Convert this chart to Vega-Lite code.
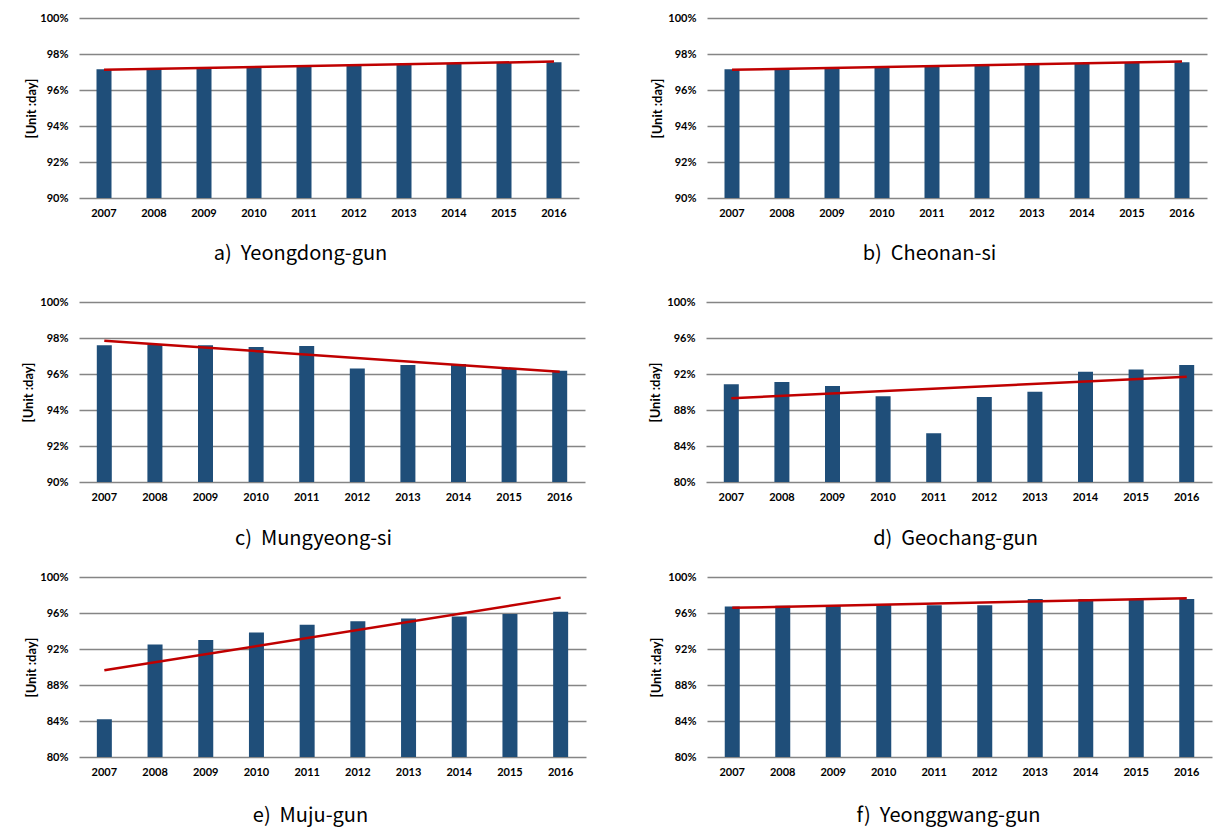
{
  "$schema": "https://vega.github.io/schema/vega-lite/v6.json",
  "padding": {"left": 5, "top": 12, "right": 5, "bottom": 5},
  "background": "white",
  "datasets": {
    "bars": [
      {"region": "a", "year": "2007", "value": 97.15},
      {"region": "a", "year": "2008", "value": 97.19},
      {"region": "a", "year": "2009", "value": 97.23},
      {"region": "a", "year": "2010", "value": 97.28},
      {"region": "a", "year": "2011", "value": 97.32},
      {"region": "a", "year": "2012", "value": 97.35},
      {"region": "a", "year": "2013", "value": 97.39},
      {"region": "a", "year": "2014", "value": 97.44},
      {"region": "a", "year": "2015", "value": 97.5},
      {"region": "a", "year": "2016", "value": 97.54},
      {"region": "b", "year": "2007", "value": 97.15},
      {"region": "b", "year": "2008", "value": 97.19},
      {"region": "b", "year": "2009", "value": 97.23},
      {"region": "b", "year": "2010", "value": 97.28},
      {"region": "b", "year": "2011", "value": 97.32},
      {"region": "b", "year": "2012", "value": 97.35},
      {"region": "b", "year": "2013", "value": 97.4},
      {"region": "b", "year": "2014", "value": 97.45},
      {"region": "b", "year": "2015", "value": 97.5},
      {"region": "b", "year": "2016", "value": 97.54},
      {"region": "c", "year": "2007", "value": 97.6},
      {"region": "c", "year": "2008", "value": 97.64},
      {"region": "c", "year": "2009", "value": 97.6},
      {"region": "c", "year": "2010", "value": 97.5},
      {"region": "c", "year": "2011", "value": 97.55},
      {"region": "c", "year": "2012", "value": 96.31},
      {"region": "c", "year": "2013", "value": 96.5},
      {"region": "c", "year": "2014", "value": 96.55},
      {"region": "c", "year": "2015", "value": 96.3},
      {"region": "c", "year": "2016", "value": 96.18},
      {"region": "d", "year": "2007", "value": 90.85},
      {"region": "d", "year": "2008", "value": 91.1},
      {"region": "d", "year": "2009", "value": 90.66},
      {"region": "d", "year": "2010", "value": 89.52},
      {"region": "d", "year": "2011", "value": 85.42},
      {"region": "d", "year": "2012", "value": 89.45},
      {"region": "d", "year": "2013", "value": 90.04},
      {"region": "d", "year": "2014", "value": 92.25},
      {"region": "d", "year": "2015", "value": 92.5},
      {"region": "d", "year": "2016", "value": 92.99},
      {"region": "e", "year": "2007", "value": 84.2},
      {"region": "e", "year": "2008", "value": 92.5},
      {"region": "e", "year": "2009", "value": 92.99},
      {"region": "e", "year": "2010", "value": 93.84},
      {"region": "e", "year": "2011", "value": 94.69},
      {"region": "e", "year": "2012", "value": 95.09},
      {"region": "e", "year": "2013", "value": 95.39},
      {"region": "e", "year": "2014", "value": 95.6},
      {"region": "e", "year": "2015", "value": 95.9},
      {"region": "e", "year": "2016", "value": 96.13},
      {"region": "f", "year": "2007", "value": 96.72},
      {"region": "f", "year": "2008", "value": 96.8},
      {"region": "f", "year": "2009", "value": 96.86},
      {"region": "f", "year": "2010", "value": 96.94},
      {"region": "f", "year": "2011", "value": 96.86},
      {"region": "f", "year": "2012", "value": 96.86},
      {"region": "f", "year": "2013", "value": 97.56},
      {"region": "f", "year": "2014", "value": 97.56},
      {"region": "f", "year": "2015", "value": 97.56},
      {"region": "f", "year": "2016", "value": 97.56}
    ],
    "trend": [
      {"region": "a", "year": "2007", "value": 97.12},
      {"region": "a", "year": "2016", "value": 97.58},
      {"region": "b", "year": "2007", "value": 97.12},
      {"region": "b", "year": "2016", "value": 97.58},
      {"region": "c", "year": "2007", "value": 97.85},
      {"region": "c", "year": "2016", "value": 96.12},
      {"region": "d", "year": "2007", "value": 89.3},
      {"region": "d", "year": "2016", "value": 91.7},
      {"region": "e", "year": "2007", "value": 89.63},
      {"region": "e", "year": "2016", "value": 97.71},
      {"region": "f", "year": "2007", "value": 96.57},
      {"region": "f", "year": "2016", "value": 97.64}
    ]
  },
  "config": {
    "view": {"stroke": null},
    "axis": {
      "labelFont": "Lato",
      "labelFontWeight": "bold",
      "labelFontSize": 11,
      "labelColor": "#000000",
      "labelOverlap": false,
      "ticks": false,
      "domain": false,
      "titleColor": "#000000"
    },
    "axisY": {
      "grid": true,
      "gridColor": "#858585",
      "gridWidth": 1.5,
      "labelPadding": 11,
      "tickCount": 12,
      "titleFont": "Lato",
      "titleFontWeight": "bold",
      "titleFontSize": 13
    },
    "axisX": {
      "grid": false,
      "labelAngle": 0,
      "labelPadding": 9,
      "titleFont": "Noto Sans CJK KR",
      "titleFontWeight": "normal",
      "titleFontSize": 20,
      "titleBaseline": "middle",
      "titleY": 55
    }
  },
  "vconcat": [
    {
      "hconcat": [
        {
          "width": 500, "height": 180,
          "layer": [
            {"data": {"name": "bars"}, "transform": [{"filter": "datum.region === 'a'"}],
             "mark": {"type": "bar", "color": "#1f4e79", "width": 15, "clip": true},
             "encoding": {
               "x": {"field": "year", "type": "ordinal", "axis": {"title": "a)\u00a0 Yeongdong-gun", "titleX": 221}},
               "y": {"field": "value", "type": "quantitative", "scale": {"domain": [90, 100], "zero": false, "nice": false},
                     "axis": {"values": [90, 92, 94, 96, 98, 100], "tickCount": 12, "labelExpr": "datum.value + '%'", "title": "[Unit :day]", "titleX": -41, "minExtent": 74}}
             }},
            {"data": {"name": "trend"}, "transform": [{"filter": "datum.region === 'a'"}],
             "mark": {"type": "line", "color": "#c00000", "strokeWidth": 2.5},
             "encoding": {"x": {"field": "year", "type": "ordinal"}, "y": {"field": "value", "type": "quantitative"}}}
          ]
        },
        {
          "width": 500, "height": 180,
          "layer": [
            {"data": {"name": "bars"}, "transform": [{"filter": "datum.region === 'b'"}],
             "mark": {"type": "bar", "color": "#1f4e79", "width": 15, "clip": true},
             "encoding": {
               "x": {"field": "year", "type": "ordinal", "axis": {"title": "b)\u00a0 Cheonan-si", "titleX": 222}},
               "y": {"field": "value", "type": "quantitative", "scale": {"domain": [90, 100], "zero": false, "nice": false},
                     "axis": {"values": [90, 92, 94, 96, 98, 100], "tickCount": 12, "labelExpr": "datum.value + '%'", "title": "[Unit :day]", "titleX": -43, "minExtent": 60}}
             }},
            {"data": {"name": "trend"}, "transform": [{"filter": "datum.region === 'b'"}],
             "mark": {"type": "line", "color": "#c00000", "strokeWidth": 2.5},
             "encoding": {"x": {"field": "year", "type": "ordinal"}, "y": {"field": "value", "type": "quantitative"}}}
          ]
        }
      ],
      "spacing": 68
    },
    {
      "vconcat": [
        {
          "hconcat": [
            {
              "width": 506, "height": 180,
              "layer": [
                {"data": {"name": "bars"}, "transform": [{"filter": "datum.region === 'c'"}],
                 "mark": {"type": "bar", "color": "#1f4e79", "width": 15, "clip": true},
                 "encoding": {
                   "x": {"field": "year", "type": "ordinal", "axis": {"title": "c)\u00a0 Mungyeong-si", "titleX": 234, "titleY": 56}},
                   "y": {"field": "value", "type": "quantitative", "scale": {"domain": [90, 100], "zero": false, "nice": false},
                         "axis": {"values": [90, 92, 94, 96, 98, 100], "tickCount": 12, "labelExpr": "datum.value + '%'", "title": "[Unit :day]", "titleX": -44, "minExtent": 62}}
                 }},
                {"data": {"name": "trend"}, "transform": [{"filter": "datum.region === 'c'"}],
                 "mark": {"type": "line", "color": "#c00000", "strokeWidth": 2.5},
                 "encoding": {"x": {"field": "year", "type": "ordinal"}, "y": {"field": "value", "type": "quantitative"}}}
              ]
            },
            {
              "width": 506, "height": 180,
              "layer": [
                {"data": {"name": "bars"}, "transform": [{"filter": "datum.region === 'd'"}],
                 "mark": {"type": "bar", "color": "#1f4e79", "width": 15, "clip": true},
                 "encoding": {
                   "x": {"field": "year", "type": "ordinal", "axis": {"title": "d)\u00a0 Geochang-gun", "titleX": 249, "titleY": 56}},
                   "y": {"field": "value", "type": "quantitative", "scale": {"domain": [80, 100], "zero": false, "nice": false},
                         "axis": {"values": [80, 84, 88, 92, 96, 100], "tickCount": 12, "labelExpr": "datum.value + '%'", "title": "[Unit :day]", "titleX": -44, "minExtent": 60}}
                 }},
                {"data": {"name": "trend"}, "transform": [{"filter": "datum.region === 'd'"}],
                 "mark": {"type": "line", "color": "#c00000", "strokeWidth": 2.5},
                 "encoding": {"x": {"field": "year", "type": "ordinal"}, "y": {"field": "value", "type": "quantitative"}}}
              ]
            }
          ],
          "spacing": 61
        },
        {
          "hconcat": [
            {
              "width": 507, "height": 180,
              "layer": [
                {"data": {"name": "bars"}, "transform": [{"filter": "datum.region === 'e'"}],
                 "mark": {"type": "bar", "color": "#1f4e79", "width": 15, "clip": true},
                 "encoding": {
                   "x": {"field": "year", "type": "ordinal", "axis": {"title": "e)\u00a0 Muju-gun", "titleX": 231, "titleY": 58}},
                   "y": {"field": "value", "type": "quantitative", "scale": {"domain": [80, 100], "zero": false, "nice": false},
                         "axis": {"values": [80, 84, 88, 92, 96, 100], "tickCount": 12, "labelExpr": "datum.value + '%'", "title": "[Unit :day]", "titleX": -41, "minExtent": 57}}
                 }},
                {"data": {"name": "trend"}, "transform": [{"filter": "datum.region === 'e'"}],
                 "mark": {"type": "line", "color": "#c00000", "strokeWidth": 2.5},
                 "encoding": {"x": {"field": "year", "type": "ordinal"}, "y": {"field": "value", "type": "quantitative"}}}
              ]
            },
            {
              "width": 505, "height": 180,
              "layer": [
                {"data": {"name": "bars"}, "transform": [{"filter": "datum.region === 'f'"}],
                 "mark": {"type": "bar", "color": "#1f4e79", "width": 15, "clip": true},
                 "encoding": {
                   "x": {"field": "year", "type": "ordinal", "axis": {"title": "f)\u00a0 Yeonggwang-gun", "titleX": 241, "titleY": 58}},
                   "y": {"field": "value", "type": "quantitative", "scale": {"domain": [80, 100], "zero": false, "nice": false},
                         "axis": {"values": [80, 84, 88, 92, 96, 100], "tickCount": 12, "labelExpr": "datum.value + '%'", "title": "[Unit :day]", "titleX": -44, "minExtent": 60}}
                 }},
                {"data": {"name": "trend"}, "transform": [{"filter": "datum.region === 'f'"}],
                 "mark": {"type": "line", "color": "#c00000", "strokeWidth": 2.5},
                 "encoding": {"x": {"field": "year", "type": "ordinal"}, "y": {"field": "value", "type": "quantitative"}}}
              ]
            }
          ],
          "spacing": 61
        }
      ],
      "spacing": 23
    }
  ],
  "spacing": 33
}
